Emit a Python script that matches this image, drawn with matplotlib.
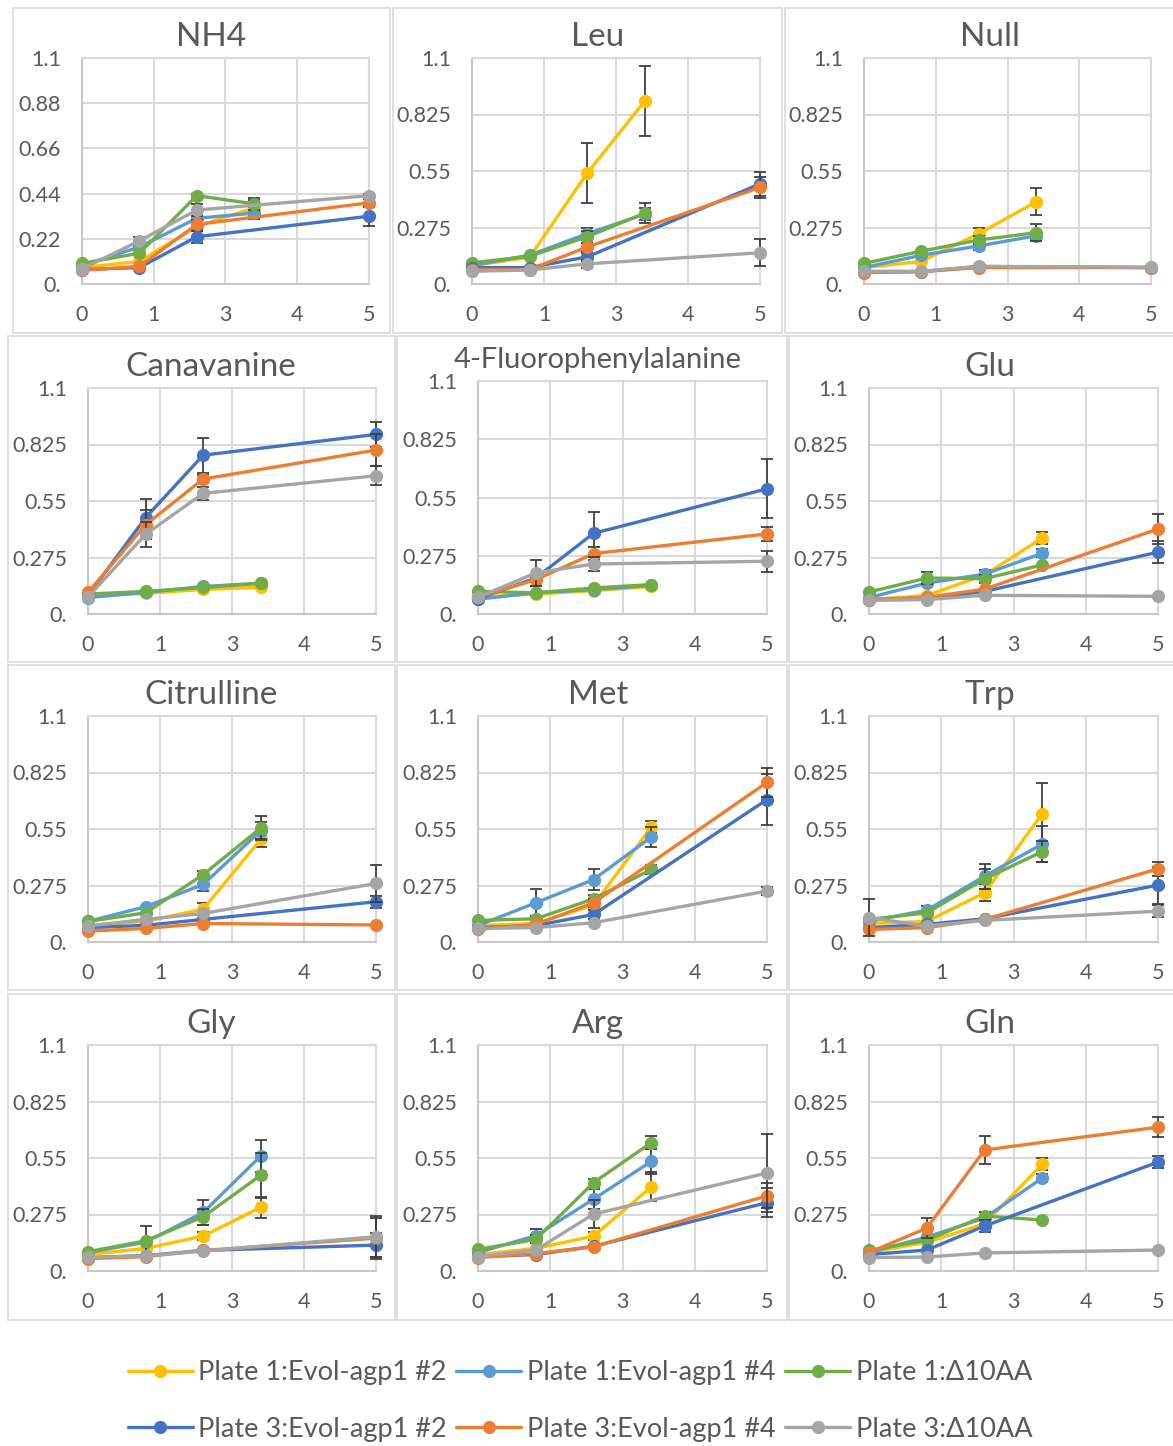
import matplotlib
matplotlib.use('Agg')
import matplotlib.pyplot as plt
import numpy as np
from matplotlib.patches import Rectangle

plt.rcParams['font.family'] = ['Lato', 'DejaVu Sans']

# ---- data ----
panels = ['NH4', 'Leu', 'Null', 'Canavanine', '4-Fluorophenylalanine', 'Glu',
          'Citrulline', 'Met', 'Trp', 'Gly', 'Arg', 'Gln']
labels = ['Plate 1:Evol-agp1 #2', 'Plate 1:Evol-agp1 #4', 'Plate 1:\u039410AA',
          'Plate 3:Evol-agp1 #2', 'Plate 3:Evol-agp1 #4', 'Plate 3:\u039410AA']
x_plate1 = [0, 1, 2, 3]
x_plate3 = [0, 1, 2, 5]

p1_agp2 = [[0.08, 0.11, 0.28, 0.37], [0.09, 0.13, 0.54, 0.89], [0.08, 0.11, 0.245, 0.40],
           [0.09, 0.10, 0.12, 0.13], [0.08, 0.095, 0.11, 0.13], [0.07, 0.09, 0.19, 0.37],
           [0.08, 0.10, 0.16, 0.50], [0.08, 0.09, 0.18, 0.56], [0.09, 0.10, 0.24, 0.625],
           [0.08, 0.11, 0.17, 0.31], [0.08, 0.11, 0.17, 0.41], [0.09, 0.14, 0.23, 0.52]]
p1_agp2_err = [[0, 0, 0.02, 0.04], [0, 0, 0.145, 0.17], [0, 0, 0.03, 0.065],
               [0, 0, 0, 0], [0, 0, 0, 0], [0, 0, 0, 0.03],
               [0, 0, 0.03, 0.04], [0, 0, 0.02, 0.03], [0, 0, 0.04, 0.15],
               [0, 0, 0.02, 0.05], [0, 0, 0.02, 0.07], [0, 0, 0.02, 0.03]]

p1_agp4 = [[0.09, 0.18, 0.32, 0.345], [0.09, 0.14, 0.245, 0.34], [0.08, 0.14, 0.185, 0.235],
           [0.08, 0.105, 0.134, 0.15], [0.07, 0.10, 0.115, 0.135], [0.08, 0.15, 0.194, 0.296],
           [0.10, 0.172, 0.28, 0.542], [0.08, 0.191, 0.304, 0.511], [0.10, 0.155, 0.32, 0.477],
           [0.09, 0.14, 0.285, 0.56], [0.09, 0.172, 0.35, 0.534], [0.09, 0.165, 0.258, 0.453]]
p1_agp4_err = [[0, 0, 0.03, 0.03], [0, 0, 0.03, 0.03], [0, 0, 0.02, 0.02],
               [0, 0, 0, 0], [0, 0, 0, 0], [0, 0, 0.02, 0.02],
               [0, 0, 0.03, 0.04], [0, 0.065, 0.05, 0.05], [0, 0.02, 0.06, 0.09],
               [0, 0, 0.06, 0.08], [0, 0.03, 0.05, 0.06], [0, 0, 0.03, 0.02]]

p1_d10 = [[0.10, 0.15, 0.43, 0.39], [0.103, 0.135, 0.23, 0.345], [0.10, 0.16, 0.214, 0.25],
          [0.097, 0.11, 0.129, 0.149], [0.107, 0.10, 0.123, 0.139], [0.107, 0.175, 0.172, 0.239],
          [0.10, 0.142, 0.328, 0.555], [0.105, 0.113, 0.21, 0.353], [0.11, 0.142, 0.307, 0.44],
          [0.094, 0.147, 0.264, 0.466], [0.105, 0.154, 0.43, 0.625], [0.10, 0.15, 0.268, 0.248]]
p1_d10_err = [[0, 0, 0.01, 0.03], [0, 0, 0.03, 0.05], [0, 0, 0.02, 0.04],
              [0, 0, 0, 0], [0, 0, 0, 0], [0, 0.03, 0.02, 0],
              [0, 0, 0.02, 0.06], [0, 0, 0.02, 0.02], [0, 0, 0.05, 0.05],
              [0, 0.07, 0.04, 0.11], [0, 0.02, 0.02, 0.03], [0, 0, 0.02, 0]]

p3_agp2 = [[0.07, 0.08, 0.23, 0.33], [0.08, 0.08, 0.132, 0.487], [0.06, 0.06, 0.085, 0.08],
           [0.09, 0.469, 0.773, 0.874], [0.072, 0.17, 0.381, 0.591], [0.07, 0.075, 0.11, 0.301],
           [0.07, 0.081, 0.11, 0.196], [0.07, 0.08, 0.134, 0.693], [0.07, 0.086, 0.113, 0.277],
           [0.065, 0.075, 0.10, 0.126], [0.07, 0.08, 0.12, 0.333], [0.08, 0.102, 0.219, 0.53]]
p3_agp2_err = [[0, 0, 0.03, 0.05], [0, 0, 0.02, 0.06], [0, 0, 0, 0],
               [0, 0.09, 0.085, 0.06], [0, 0.02, 0.1, 0.14], [0, 0, 0, 0.055],
               [0, 0, 0, 0.03], [0, 0, 0.02, 0.125], [0, 0, 0, 0.09],
               [0, 0, 0, 0.06], [0, 0, 0, 0.07], [0, 0, 0.03, 0.03]]

p3_agp4 = [[0.067, 0.086, 0.29, 0.395], [0.07, 0.07, 0.18, 0.47], [0.055, 0.06, 0.08, 0.08],
           [0.105, 0.434, 0.657, 0.798], [0.08, 0.162, 0.285, 0.378], [0.07, 0.081, 0.121, 0.414],
           [0.053, 0.066, 0.09, 0.083], [0.061, 0.086, 0.191, 0.777], [0.061, 0.07, 0.11, 0.356],
           [0.06, 0.07, 0.10, 0.16], [0.065, 0.085, 0.118, 0.366], [0.09, 0.209, 0.589, 0.70]]
p3_agp4_err = [[0, 0, 0.02, 0.02], [0, 0, 0.02, 0.05], [0, 0, 0, 0],
               [0, 0.07, 0.02, 0.08], [0, 0.03, 0.03, 0.035], [0, 0, 0, 0.075],
               [0, 0, 0, 0], [0, 0, 0.02, 0.07], [0, 0, 0, 0.035],
               [0, 0, 0, 0.1], [0, 0, 0, 0.06], [0, 0.05, 0.07, 0.05]]

p3_d10 = [[0.073, 0.21, 0.36, 0.43], [0.062, 0.068, 0.098, 0.152], [0.062, 0.062, 0.086, 0.082],
          [0.083, 0.388, 0.587, 0.673], [0.079, 0.194, 0.236, 0.249], [0.066, 0.07, 0.091, 0.086],
          [0.078, 0.11, 0.139, 0.285], [0.066, 0.07, 0.094, 0.248], [0.118, 0.078, 0.105, 0.15],
          [0.066, 0.074, 0.097, 0.167], [0.07, 0.102, 0.277, 0.477], [0.065, 0.068, 0.088, 0.102]]
p3_d10_err = [[0, 0.02, 0.03, 0.01], [0, 0, 0.02, 0.065], [0, 0, 0, 0],
              [0, 0.06, 0.03, 0.045], [0, 0.06, 0.035, 0.05], [0, 0, 0, 0],
              [0, 0, 0, 0.09], [0, 0, 0, 0.02], [0.09, 0, 0, 0.03],
              [0, 0, 0, 0.1], [0, 0, 0.07, 0.19], [0, 0, 0, 0]]

colors = ['#FFC000', '#5B9BD5', '#70AD47', '#4472C4', '#ED7D31', '#A5A5A5']
series = [(x_plate1, p1_agp2, p1_agp2_err), (x_plate1, p1_agp4, p1_agp4_err),
          (x_plate1, p1_d10, p1_d10_err), (x_plate3, p3_agp2, p3_agp2_err),
          (x_plate3, p3_agp4, p3_agp4_err), (x_plate3, p3_d10, p3_d10_err)]

yt_default = [0, 0.275, 0.55, 0.825, 1.1]
yl_default = ['0.', '0.275', '0.55', '0.825', '1.1']
yt_nh4 = [0, 0.22, 0.44, 0.66, 0.88, 1.1]
yl_nh4 = ['0.', '0.22', '0.44', '0.66', '0.88', '1.1']
xt = [0, 1.25, 2.5, 3.75, 5]
xl = ['0', '1', '3', '4', '5']

# ---- layout (pixels) ----
W, H = 1173, 1446
fig = plt.figure(figsize=(W / 100, H / 100), dpi=100)
txt = '#595959'
grid = '#D9D9D9'

frames = [(13, 8, 390, 333), (393, 8, 782, 333), (785, 8, 1180, 333)]
for top, bot in [(336, 662), (665, 990), (994, 1320)]:
    frames += [(8, top, 395, bot), (397, top, 787, bot), (789, top, 1180, bot)]
for (l, t, r, b) in frames:
    fig.patches.append(Rectangle((l / W, 1 - b / H), (r - l) / W, (b - t) / H,
                                 transform=fig.transFigure, fill=False,
                                 edgecolor=grid, linewidth=1.2))

col_x = [(82, 369), (472, 760), (864, 1151)]
col_x2 = [(88, 376), (478, 767), (869, 1158)]
rows_y = [(58, 284), (388, 614), (716, 942), (1045, 1271)]
title_x = [211, 598, 990]

handles = []
for i, name in enumerate(panels):
    r, c = divmod(i, 3)
    l, rr = col_x[c] if r == 0 else col_x2[c]
    t, b = rows_y[r]
    if name == '4-Fluorophenylalanine':
        t = 381
    ax = fig.add_axes([l / W, 1 - b / H, (rr - l) / W, (b - t) / H])
    ax.set_xlim(0, 5)
    ax.set_ylim(0, 1.1)
    ax.set_xticks(xt)
    ax.set_xticklabels(xl)
    if name == 'NH4':
        ax.set_yticks(yt_nh4)
        ax.set_yticklabels(yl_nh4)
    else:
        ax.set_yticks(yt_default)
        ax.set_yticklabels(yl_default)
    ax.grid(True, color=grid, linewidth=1.5, zorder=0)
    ax.set_axisbelow(True)
    for s in ax.spines.values():
        s.set_color(grid)
        s.set_linewidth(1.5)
    ax.spines['left'].set_color('#C8C8C8')
    ax.spines['bottom'].set_color('#C8C8C8')
    ax.tick_params(length=0, pad=15, labelsize=15.5, labelcolor=txt)

    for k, (xs, vals, errs) in enumerate(series):
        y = np.array(vals[i])
        e = np.array(errs[i])
        xs = np.array(xs)
        m = e > 0
        if m.any():
            ax.errorbar(xs[m], y[m], yerr=e[m], fmt='none', ecolor='#404040',
                        elinewidth=1.3, capsize=4, capthick=1.3, zorder=2 + k, clip_on=False)
        ln, = ax.plot(xs, y, color=colors[k], lw=2.4, marker='o', ms=8.5,
                      solid_joinstyle='round', solid_capstyle='round',
                      zorder=2.5 + k, clip_on=False, label=labels[k])
        if i == 0:
            handles.append(ln)

    size = 21 if name == '4-Fluorophenylalanine' else 24
    fig.text(title_x[c] / W, 1 - (t - 21) / H, name, ha='center', va='center',
             fontsize=size, color=txt)

# legend fills column-wise, so order handles to read row-wise
order = [0, 3, 1, 4, 2, 5]
fig.legend(handles=[handles[j] for j in order], loc='center',
           bbox_to_anchor=(580 / W, 1 - 1401 / H),
           ncol=3, frameon=False, fontsize=19.5, labelcolor=txt, handlelength=2.4,
           handletextpad=0.2, columnspacing=0.35, labelspacing=1.17, borderpad=0)

fig.savefig('out.png', dpi=100)
